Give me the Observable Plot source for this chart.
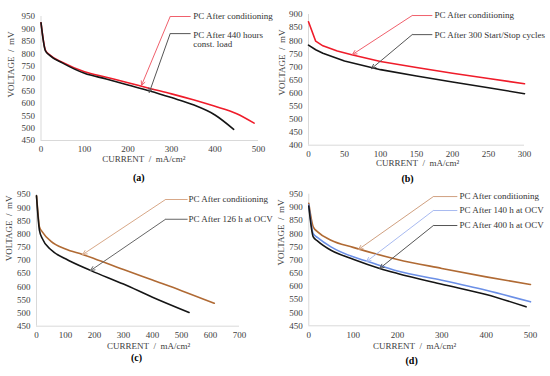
<!DOCTYPE html>
<html><head><meta charset="utf-8">
<script src="https://cdn.jsdelivr.net/npm/d3@7"></script>
<script src="https://cdn.jsdelivr.net/npm/@observablehq/plot@0.6"></script>
<style>
body{margin:0;background:#fff;width:550px;height:376px;position:relative;overflow:hidden}
.p{position:absolute}
</style>
</head><body>
<div id="pa" class="p" style="left:0;top:0"></div>
<div id="pb" class="p" style="left:275px;top:0"></div>
<div id="pc" class="p" style="left:0;top:188px"></div>
<div id="pd" class="p" style="left:275px;top:188px"></div>
<script>
// ---------- data ----------
// Panel (a)
const aCondX = [0, 10, 20, 50, 100, 150, 200, 250, 300, 350, 400, 450, 490];
const aCondV = [925, 815, 795, 765, 727, 705, 683, 660, 638, 614, 588, 558, 520];
const aLoadX = [0, 10, 20, 50, 100, 150, 200, 250, 300, 350, 400, 443];
const aLoadV = [925, 812, 793, 762, 721, 698, 674, 650, 623, 594, 553, 495];
// Panel (b)
const bCondX = [0, 10, 20, 40, 60, 100, 150, 200, 250, 300];
const bCondV = [872, 798, 780, 760, 746, 720, 697, 675, 655, 635];
const bCycX = [0, 10, 20, 50, 100, 150, 200, 250, 300];
const bCycV = [783, 765, 752, 722, 689, 665, 642, 620, 597];
// Panel (c)
const cCondX = [0, 5, 10, 20, 50, 100, 159, 200, 300, 400, 500, 613];
const cCondV = [945, 880, 828, 808, 772, 743, 722, 706, 665, 625, 585, 537];
const cOcvX = [0, 5, 10, 20, 50, 100, 188, 300, 400, 526];
const cOcvV = [945, 870, 815, 783, 740, 706, 661, 610, 560, 502];
// Panel (d)
const dCondX = [0, 10, 20, 50, 100, 200, 300, 400, 500];
const dCondV = [915, 826, 807, 775, 748, 702, 668, 636, 607];
const d140X = [0, 10, 20, 50, 100, 130, 200, 300, 400, 500];
const d140V = [910, 800, 785, 750, 712, 696, 658, 623, 585, 541];
const d400X = [0, 10, 20, 50, 100, 160, 200, 300, 400, 490];
const d400V = [905, 788, 772, 737, 703, 668, 649, 608, 569, 522];
// tick values
const ticksA_X = [0, 100, 200, 300, 400, 500];
const ticksA_Y = [450, 500, 550, 600, 650, 700, 750, 800, 850, 900, 950];
const ticksB_X = [0, 50, 100, 150, 200, 250, 300];
const ticksB_Y = [400, 450, 500, 550, 600, 650, 700, 750, 800, 850, 900];
const ticksC_X = [0, 100, 200, 300, 400, 500, 600, 700];
const ticksD_X = [0, 100, 200, 300, 400, 500];
// labels
const xTitle = "CURRENT\u00a0\u00a0/\u00a0\u00a0mA/cm\u00b2";
const yTitle = "VOLTAGE\u00a0\u00a0/\u00a0\u00a0mV";
const legA = ["PC After conditioning", "PC After 440 hours\nconst. load"];
const legB = ["PC After conditioning", "PC After 300 Start/Stop cycles"];
const legC = ["PC After conditioning", "PC After 126 h at OCV"];
const legD = ["PC After conditioning", "PC After 140 h at OCV", "PC After 400 h at OCV"];
// annotation anchors (data units): elbow x, leader end x, text x, y, arrow target x, y
const noteA = [
  {ex: 297, lx: 344, tx: 350, y: 950, ty: 950, ax: 231, ay: 672},
  {ex: 297, lx: 344, tx: 350, y: 881, ty: 855, ax: 249, ay: 644}
];
const noteB = [
  {ex: 144, lx: 172, tx: 175, y: 896, ty: 896, ax: 61, ay: 747},
  {ex: 144, lx: 172, tx: 175, y: 823, ty: 820, ax: 87.5, ay: 693}
];
const noteC = [
  {ex: 445, lx: 521, tx: 524, y: 931, ty: 931, ax: 159, ay: 722},
  {ex: 445, lx: 521, tx: 524, y: 856, ty: 856, ax: 186, ay: 661}
];
const noteD = [
  {ex: 281, lx: 335, tx: 340, y: 941, ty: 941, ax: 112, ay: 740},
  {ex: 281, lx: 335, tx: 340, y: 888, ty: 888, ax: 130, ay: 694},
  {ex: 281, lx: 335, tx: 340, y: 831, ty: 831, ax: 160, ay: 668}
];

// ---------- drawing ----------
const FONT = "'Liberation Serif', 'Times New Roman', serif";
const rows = (xs, vs) => xs.map((x, i) => ({x, v: vs[i]}));

function panel(el, cfg) {
  const marks = [
    Plot.ruleX([cfg.xDomain[0]], {y1: cfg.yDomain[0], y2: cfg.yDomain[1], stroke: "#d9d9d9"}),
    Plot.ruleY([cfg.yDomain[0]], {x1: cfg.xDomain[0], x2: cfg.xDomain[1], stroke: "#d9d9d9"}),
    Plot.axisX({ticks: cfg.xTicks, tickSize: 0, tickPadding: 5.5, label: null, tickFormat: d3.format("d")}),
    Plot.axisY({ticks: cfg.yTicks, tickSize: 0, tickPadding: 6, label: null, tickFormat: d3.format("d")})
  ];
  cfg.series.forEach(s => {
    marks.push(Plot.line(rows(s.x, s.v), {x: "x", y: "v", stroke: s.color, strokeWidth: 1.6, curve: cfg.curve}));
  });
  cfg.notes.forEach((n, i) => {
    const s = cfg.series[i];
    marks.push(Plot.link([n], {x1: "ex", y1: "y", x2: "lx", y2: "y", stroke: s.arrow, strokeWidth: 1}));
    marks.push(Plot.arrow([n], {x1: "ex", y1: "y", x2: "ax", y2: "ay", stroke: s.arrow, strokeWidth: 1, headLength: 7, headAngle: 50, insetStart: 0, insetEnd: 0}));
    marks.push(Plot.text([cfg.legend[i]], {x: () => n.tx, y: () => n.ty, textAnchor: "start", fill: "#333", fontSize: 9, lineHeight: 1}));
  });
  const L = cfg.lab;
  marks.push(Plot.text([xTitle], {frameAnchor: "bottom", dx: L.xdx, dy: L.xdy + 1.5, fill: "#404040", fontSize: 9}));
  marks.push(Plot.text([yTitle], {frameAnchor: "left", dx: L.ydx, dy: L.ydy, rotate: -90, fill: "#404040", fontSize: 9}));
  marks.push(Plot.text([cfg.tag], {frameAnchor: "bottom", dx: L.tdx, dy: L.tdy, fill: "#000", fontSize: 10, fontWeight: "bold"}));
  const svg = Plot.plot({
    width: 275, height: 188,
    marginLeft: cfg.m[0], marginRight: cfg.m[1], marginTop: cfg.m[2], marginBottom: cfg.m[3],
    x: {domain: cfg.xDomain},
    y: {domain: cfg.yDomain},
    style: {fontFamily: FONT, fontSize: "9px", color: "#404040", background: "transparent", overflow: "visible"},
    marks
  });
  document.getElementById(el).appendChild(svg);
}

const RED = "#ef1c2a", BLK = "#151515", BRN = "#b06a34", BLU = "#6b8fe6";

panel("pa", {
  xDomain: [0, 500], yDomain: [450, 950], xTicks: ticksA_X, yTicks: ticksA_Y,
  m: [40.5, 17, 16, 48], curve: "monotone-x",
  series: [{x: aCondX, v: aCondV, color: RED, arrow: "#f0606c"}, {x: aLoadX, v: aLoadV, color: BLK, arrow: "#555"}],
  notes: noteA, legend: legA, tag: "(a)",
  lab: {xdx: -6, xdy: 20, ydx: -29.5, ydy: 19, tdx: -11, tdy: 40}
});
panel("pb", {
  xDomain: [0, 300], yDomain: [400, 900], xTicks: ticksB_X, yTicks: ticksB_Y,
  m: [33, 26, 14, 43.3], curve: "linear",
  series: [{x: bCondX, v: bCondV, color: RED, arrow: "#f0606c"}, {x: bCycX, v: bCycV, color: BLK, arrow: "#555"}],
  notes: noteB, legend: legB, tag: "(b)",
  lab: {xdx: 1, xdy: 19.5, ydx: -26, ydy: 15.6, tdx: -9, tdy: 36.5}
});
panel("pc", {
  xDomain: [0, 700], yDomain: [450, 950], xTicks: ticksC_X, yTicks: ticksA_Y,
  m: [36, 36, 6, 50.3], curve: "monotone-x",
  series: [{x: cCondX, v: cCondV, color: BRN, arrow: "#d8a888"}, {x: cOcvX, v: cOcvV, color: BLK, arrow: "#666"}],
  notes: noteC, legend: legC, tag: "(c)",
  lab: {xdx: 10.5, xdy: 21, ydx: -27, ydy: 1, tdx: -1.5, tdy: 35}
});
panel("pd", {
  xDomain: [0, 500], yDomain: [450, 950], xTicks: ticksD_X, yTicks: ticksA_Y,
  m: [33.3, 20, 5.7, 50.7], curve: "monotone-x",
  series: [{x: dCondX, v: dCondV, color: BRN, arrow: "#d0a080"}, {x: d140X, v: d140V, color: BLU, arrow: "#a8baf0"}, {x: d400X, v: d400V, color: BLK, arrow: "#555"}],
  notes: noteD, legend: legD, tag: "(d)",
  lab: {xdx: -5, xdy: 21.7, ydx: -27.6, ydy: 5.5, tdx: -8, tdy: 37.7}
});
</script>
</body></html>
